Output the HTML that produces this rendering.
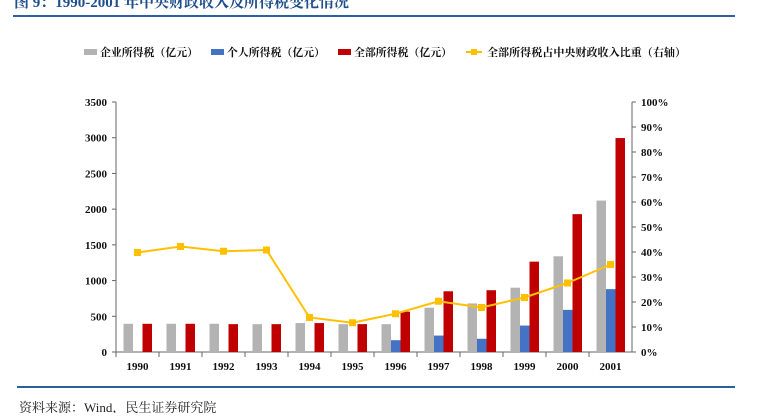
<!DOCTYPE html>
<html><head><meta charset="utf-8"><style>
body{margin:0;background:#fff;width:757px;height:413px;overflow:hidden;font-family:"Liberation Serif","Noto Serif CJK SC",serif}
</style></head><body>
<svg id="c" width="757" height="413" xmlns="http://www.w3.org/2000/svg">
<text x="14" y="7" font-size="15" font-weight="bold" fill="#1f4e8c" font-family="Liberation Serif,Noto Serif CJK SC,serif">图 9：1990-2001 年中央财政收入及所得税变化情况</text>
<rect x="13" y="15" width="722" height="2" fill="#2e5f9e"/>
<rect x="17" y="386" width="718" height="2" fill="#2e5f9e"/>
<text x="19" y="412" font-size="13" fill="#222">资料来源：Wind，民生证券研究院</text>
<g id="legend" font-size="11" font-weight="bold" fill="#111" font-family="Liberation Serif,Noto Serif CJK SC,serif"></g>
<g id="plot"></g>
</svg>
<script>
const categories=["1990","1991","1992","1993","1994","1995","1996","1997","1998","1999","2000","2001"];
const corpTax=[395,395,395,390,405,390,390,620,680,900,1340,2120];
const personalTax=[0,0,0,0,0,0,165,230,185,370,590,880];
const totalTax=[395,395,390,390,405,390,565,850,865,1265,1930,2995];
const shareRatio=[39.8,42.2,40.3,40.8,13.8,11.7,15.3,20.3,17.8,21.8,27.6,35.0];
const leftTicks=[0,500,1000,1500,2000,2500,3000,3500];
const rightTicks=[0,10,20,30,40,50,60,70,80,90,100];
const NS="http://www.w3.org/2000/svg";
const X0=116,X1=632,Y0=352,Y1=102;
const bw=(X1-X0)/categories.length;
const yL=v=>Y0-(v/3500)*(Y0-Y1);
const yR=v=>Y0-(v/100)*(Y0-Y1);
const xc=i=>X0+bw*(i+0.5);
const plot=document.getElementById('plot');
function mk(tag,attrs,parent){const e=document.createElementNS(NS,tag);for(const k in attrs)e.setAttribute(k,attrs[k]);(parent||plot).appendChild(e);return e;}
let a=mk('line',{x1:X0,y1:Y1,x2:X0,y2:Y0,stroke:'#666'});


a=mk('line',{x1:X1,y1:Y1,x2:X1,y2:Y0,stroke:'#666'});


a=mk('line',{x1:X0,y1:Y0,x2:X1,y2:Y0,stroke:'#666'});


leftTicks.forEach(v=>{mk('line',{x1:X0-4,x2:X0,y1:yL(v),y2:yL(v),stroke:'#666'});
 const t=mk('text',{x:X0-9,y:yL(v)+4,'text-anchor':'end','font-size':11,'font-weight':'bold',fill:'#111'});t.textContent=v;
 
 });
rightTicks.forEach(v=>{mk('line',{x1:X1,x2:X1+4,y1:yR(v),y2:yR(v),stroke:'#666'});
 const t=mk('text',{x:X1+9,y:yR(v)+4,'font-size':11,'font-weight':'bold',fill:'#111'});t.textContent=v+'%';
 
 });
categories.forEach((c,i)=>{
 mk('line',{x1:X0+bw*i,x2:X0+bw*i,y1:Y0,y2:Y0+5,stroke:'#666'});
 const t=mk('text',{x:xc(i),y:Y0+18,'text-anchor':'middle','font-size':11,'font-weight':'bold',fill:'#111'});t.textContent=c;
 
 
 const w=9.5;
 let r=mk('rect',{x:xc(i)-14,y:yL(corpTax[i]),width:w,height:Y0-yL(corpTax[i]),fill:'#b3b3b3'});
 
 
 r=mk('rect',{x:xc(i)-4.5,y:yL(personalTax[i]),width:w,height:Y0-yL(personalTax[i]),fill:'#4472c4'});
 
 
 r=mk('rect',{x:xc(i)+5,y:yL(totalTax[i]),width:w,height:Y0-yL(totalTax[i]),fill:'#c00000'});
 
 
});
const ln=mk('polyline',{points:shareRatio.map((v,i)=>xc(i)+','+yR(v)).join(' '),fill:'none',stroke:'#ffc000','stroke-width':2});


shareRatio.forEach((v,i)=>{const p=mk('rect',{x:xc(i)-3.5,y:yR(v)-3.5,width:7,height:7,fill:'#ffc000'});
 
 });
const lg=document.getElementById('legend');
const items=[["企业所得税（亿元）","#b3b3b3",84,'rect',98],["个人所得税（亿元）","#4472c4",211,'rect',98],["全部所得税（亿元）","#c00000",338,'rect',98],["全部所得税占中央财政收入比重（右轴）","#ffc000",466,'line',199]];
items.forEach(([lab,col,x,kind,tl],k)=>{
 const g=mk('g',{},lg);
 
 
 if(kind==='rect')mk('rect',{x:x,y:49,width:13,height:6,fill:col},g);
 else{mk('line',{x1:x,x2:x+16,y1:52,y2:52,stroke:col,'stroke-width':2},g);mk('rect',{x:x+5,y:49,width:6,height:6,fill:col},g);}
 const t=mk('text',{x:x+(kind==='rect'?16:21),y:56,textLength:tl,lengthAdjust:'spacingAndGlyphs'},g);t.textContent=lab;
});
</script>
</body></html>
